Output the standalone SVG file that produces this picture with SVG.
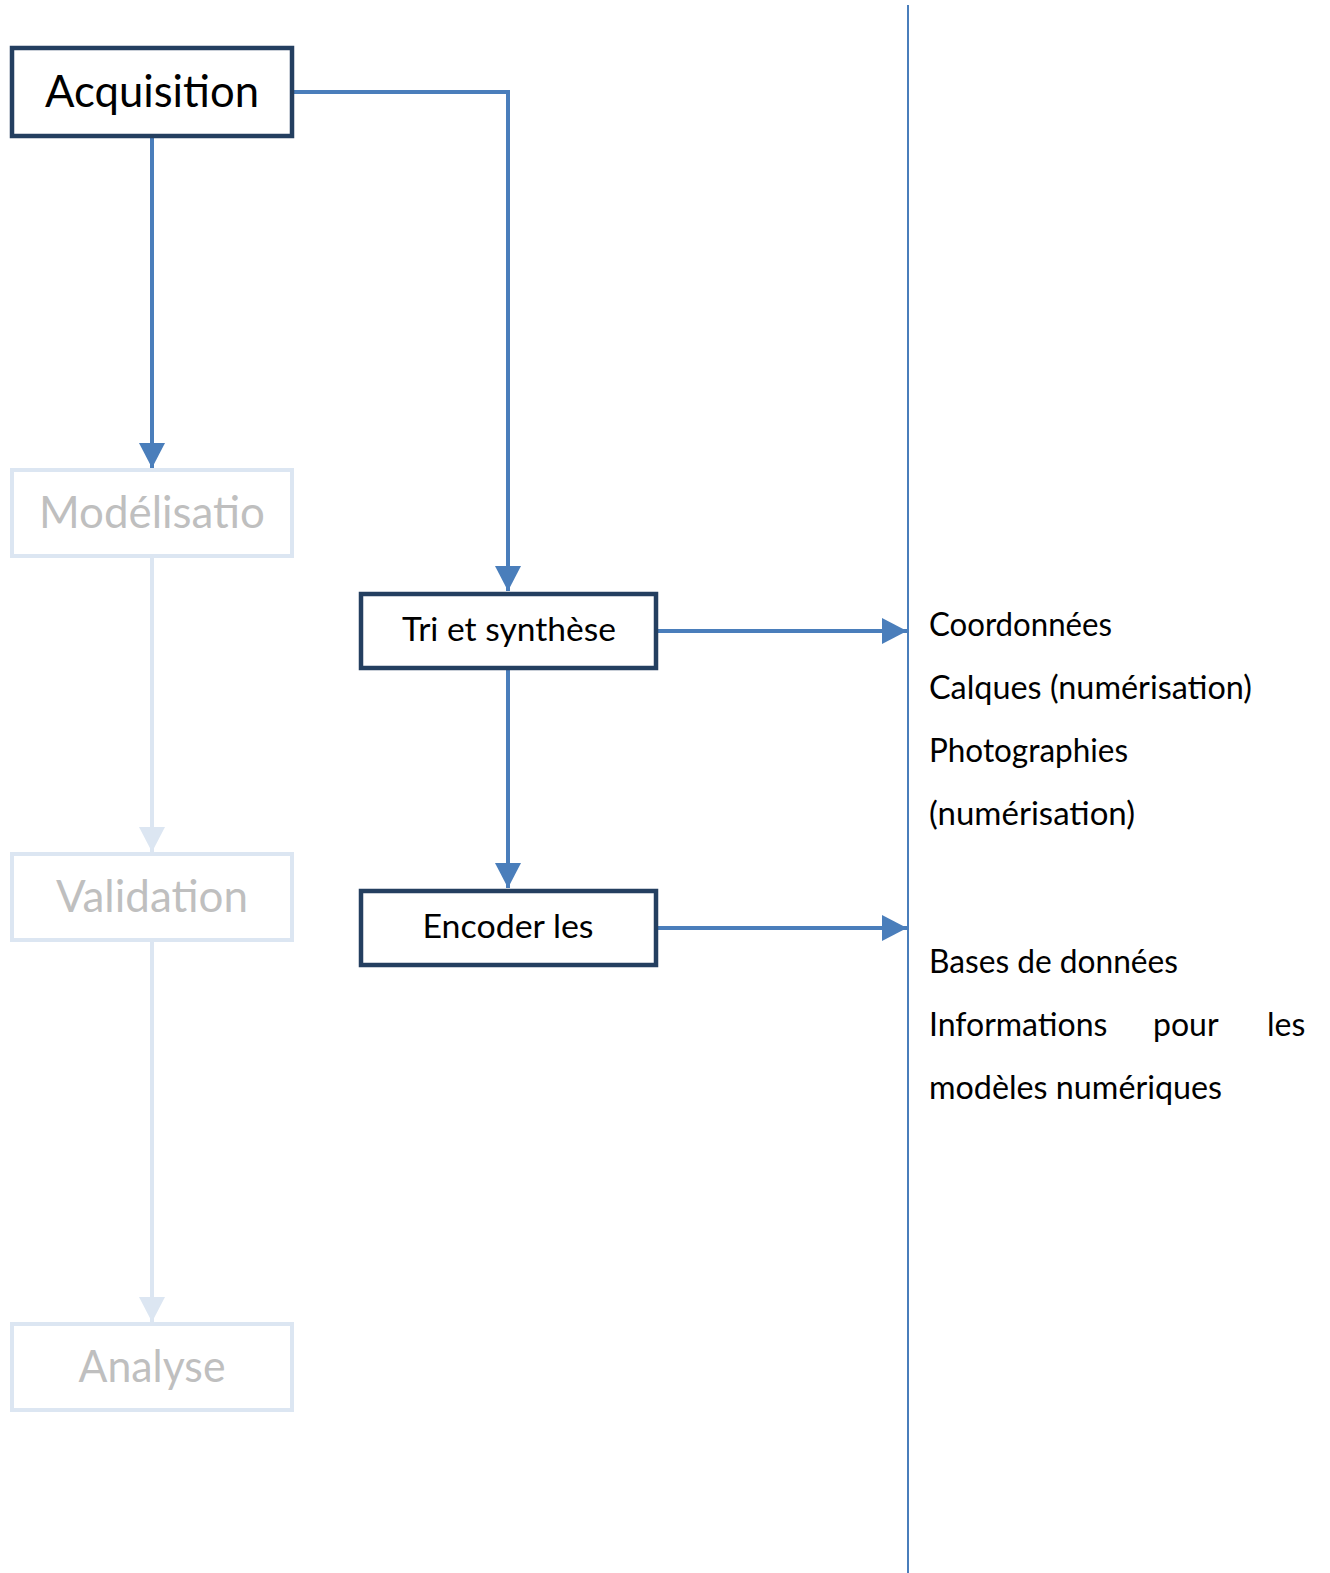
<svg xmlns="http://www.w3.org/2000/svg" width="1330" height="1573" viewBox="0 0 1330 1573">
<style>
.dark{fill:#ffffff;stroke:#243f60;stroke-width:4.5}
.light{fill:#ffffff;stroke:#dce6f2;stroke-width:4}
.t{font-family:Lato,"Open Sans","Liberation Sans",sans-serif;text-anchor:middle}
.big{font-size:44px}
.mid{font-size:33px;fill:#000}
.blk{fill:#000}
.gry{fill:#bfbfbf}
.side{font-family:Lato,"Open Sans","Liberation Sans",sans-serif;font-size:32px;fill:#000}
.c{fill:none;stroke:#4a7ebb;stroke-width:4}
.cl{fill:none;stroke:#dce6f2;stroke-width:4}
</style>
<defs>
<marker id="ah" markerUnits="userSpaceOnUse" markerWidth="26" markerHeight="26" viewBox="0 0 26 26" refX="25" refY="13" orient="auto"><path d="M0,0 L25,13 L0,26 Z" fill="#4a7ebb"/></marker>
<marker id="ahl" markerUnits="userSpaceOnUse" markerWidth="26" markerHeight="26" viewBox="0 0 26 26" refX="25" refY="13" orient="auto"><path d="M0,0 L25,13 L0,26 Z" fill="#dce6f2"/></marker>
</defs>
<rect x="0" y="0" width="1330" height="1573" fill="#ffffff"/>
<line x1="908" y1="5" x2="908" y2="1573" stroke="#4a7ebb" stroke-width="2"/>
<g id="connectors">
<path class="c" d="M294,92 H508 V591" marker-end="url(#ah)"/>
<path class="c" d="M152,138 V468" marker-end="url(#ah)"/>
<path class="c" d="M508,670 V888" marker-end="url(#ah)"/>
<path class="c" d="M658,631 H907" marker-end="url(#ah)"/>
<path class="c" d="M658,928 H907" marker-end="url(#ah)"/>
<path class="cl" d="M152,558 V852" marker-end="url(#ahl)"/>
<path class="cl" d="M152,942 V1322" marker-end="url(#ahl)"/>
</g>
<g id="acquisition">
<rect class="dark" x="12" y="48" width="280" height="88"/>
<text class="t big blk" x="152" y="107" textLength="214" lengthAdjust="spacingAndGlyphs">Acquisition</text>
</g>
<g id="modelisation">
<rect class="light" x="12" y="470" width="280" height="86"/>
<text class="t big gry" x="152" y="528" textLength="226" lengthAdjust="spacingAndGlyphs">Modélisatio</text>
</g>
<g id="validation">
<rect class="light" x="12" y="854" width="280" height="86"/>
<text class="t big gry" x="152" y="912" textLength="192" lengthAdjust="spacingAndGlyphs">Validation</text>
</g>
<g id="analyse">
<rect class="light" x="12" y="1324" width="280" height="86"/>
<text class="t big gry" x="152" y="1382" textLength="147" lengthAdjust="spacingAndGlyphs">Analyse</text>
</g>
<g id="tri">
<rect class="dark" x="361" y="594" width="295" height="74"/>
<text class="t mid" x="509" y="641" textLength="214" lengthAdjust="spacingAndGlyphs">Tri et synthèse</text>
</g>
<g id="encoder">
<rect class="dark" x="361" y="891" width="295" height="74"/>
<text class="t mid" x="508" y="938" textLength="171" lengthAdjust="spacingAndGlyphs">Encoder les</text>
</g>
<g id="outputs1">
<text class="side" x="929" y="636" textLength="183" lengthAdjust="spacingAndGlyphs">Coordonnées</text>
<text class="side" x="929" y="699" textLength="323" lengthAdjust="spacingAndGlyphs">Calques (numérisation)</text>
<text class="side" x="929" y="762" textLength="199" lengthAdjust="spacingAndGlyphs">Photographies</text>
<text class="side" x="929" y="825" textLength="206" lengthAdjust="spacingAndGlyphs">(numérisation)</text>
</g>
<g id="outputs2">
<text class="side" x="929" y="973" textLength="249" lengthAdjust="spacingAndGlyphs">Bases de données</text>
<text class="side" y="1036"><tspan x="929">Informations</tspan><tspan x="1153">pour</tspan><tspan x="1267">les</tspan></text>
<text class="side" x="929" y="1099" textLength="293" lengthAdjust="spacingAndGlyphs">modèles numériques</text>
</g>
</svg>
